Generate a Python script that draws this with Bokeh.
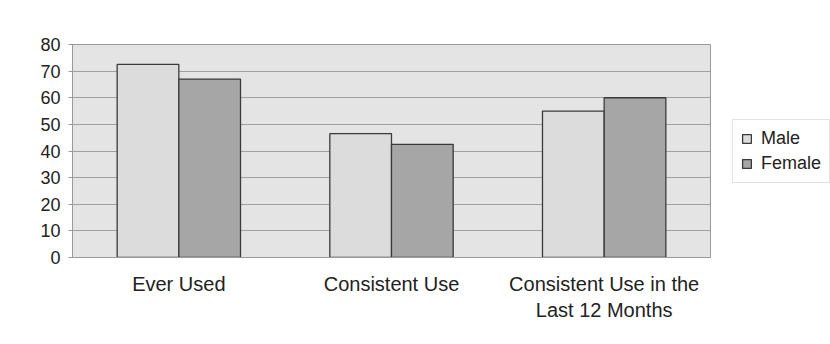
from bokeh.plotting import figure
from bokeh.models import FactorRange, Legend, LegendItem, FixedTicker, Range1d
from bokeh.layouts import row
from bokeh.transform import dodge
from bokeh.embed import file_html
from bokeh.resources import INLINE

categories = ["Ever Used", "Consistent Use", "Consistent Use in the\nLast 12 Months"]
male = [72.5, 46.5, 55]
female = [67, 42.5, 60]
y_ticks = [0, 10, 20, 30, 40, 50, 60, 70, 80]

FONT = "Liberation Sans"
MALE_FILL = "#dcdcdc"
FEMALE_FILL = "#a6a6a6"
EDGE = "#3a3a3a"

p = figure(
    width=715, height=344,
    x_range=FactorRange(*categories, range_padding=0),
    y_range=(0, 80),
    output_backend="svg", toolbar_location=None,
    min_border_left=72, min_border_right=5,
    min_border_top=44, min_border_bottom=87,
)

p.background_fill_color = "#e4e4e4"
p.border_fill_color = "white"
p.outline_line_color = "#9a9a9a"

src = dict(cat=categories, male=male, female=female)
p.vbar(x=dodge("cat", -0.145, range=p.x_range), top="male", width=0.29,
       source=src, fill_color=MALE_FILL, line_color=EDGE, line_width=1.3)
p.vbar(x=dodge("cat", 0.145, range=p.x_range), top="female", width=0.29,
       source=src, fill_color=FEMALE_FILL, line_color=EDGE, line_width=1.3)

p.xgrid.grid_line_color = None
p.ygrid.grid_line_color = "#a0a0a0"
p.ygrid.grid_line_width = 1

p.yaxis.ticker = FixedTicker(ticks=y_ticks)
p.yaxis.axis_line_color = "#9a9a9a"
p.yaxis.major_tick_out = 4
p.yaxis.major_tick_in = 0
p.yaxis.major_tick_line_color = "#9a9a9a"
p.yaxis.minor_tick_line_color = None
p.yaxis.major_label_text_font = FONT
p.yaxis.major_label_text_font_size = "18px"
p.yaxis.major_label_text_color = "#222222"
p.yaxis.major_label_standoff = 8

p.xaxis.axis_line_color = "#9a9a9a"
p.xaxis.major_tick_line_color = None
p.xaxis.minor_tick_line_color = None
p.xaxis.major_label_text_font = FONT
p.xaxis.major_label_text_font_size = "20px"
p.xaxis.major_label_text_color = "#222222"
p.xaxis.major_label_standoff = 9

# Narrow side panel holding the series key; its frame spans the same
# vertical band as the chart's plot area so the key centres on it.
k = figure(
    width=115, height=344,
    x_range=Range1d(0, 1), y_range=Range1d(0, 1),
    output_backend="svg", toolbar_location=None,
    min_border_left=0, min_border_right=0,
    min_border_top=44, min_border_bottom=87,
)
k.axis.visible = False
k.grid.visible = False
k.outline_line_color = None
k.background_fill_color = "white"
k.border_fill_color = "white"

# tiny swatches tucked behind the opaque key box; they only feed its glyphs
key_m = k.vbar(x=[0.5], bottom=[0.495], top=[0.505], width=0.02,
               fill_color=MALE_FILL, line_color=EDGE, line_width=1.3)
key_f = k.vbar(x=[0.5], bottom=[0.495], top=[0.505], width=0.02,
               fill_color=FEMALE_FILL, line_color=EDGE, line_width=1.3)

legend = Legend(
    items=[LegendItem(label="Male", renderers=[key_m]),
           LegendItem(label="Female", renderers=[key_f])],
    location="left",
    label_text_font=FONT, label_text_font_size="18px", label_text_color="#222222",
    glyph_width=11, glyph_height=11,
    spacing=4, padding=8, margin=17,
    border_line_color="#c8c8c8", background_fill_color="white",
    background_fill_alpha=1.0,
    label_standoff=9,
)
k.add_layout(legend)

layout = row(p, k, spacing=0)
open("out.html", "w").write(file_html(layout, INLINE))
